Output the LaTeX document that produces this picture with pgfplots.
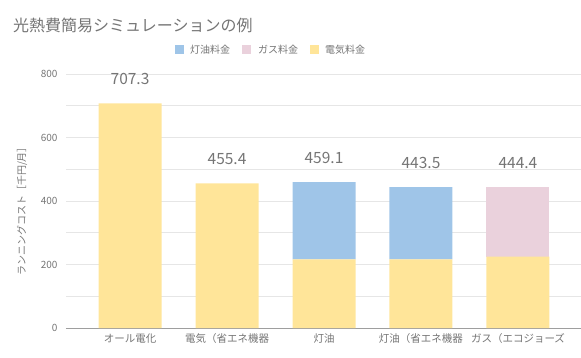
\documentclass[border=0pt]{standalone}
\usepackage{fontspec}
\setmainfont{Noto Sans CJK JP}
\usepackage{pgfplots}
\usepackage{pgfplotstable}
\pgfplotsset{compat=1.18}
\definecolor{txt}{HTML}{757575}
\definecolor{gridc}{HTML}{E6E6E6}
\definecolor{axisc}{HTML}{9E9E9E}
\definecolor{cblue}{HTML}{9FC5E8}
\definecolor{cpink}{HTML}{EAD1DC}
\definecolor{cyellow}{HTML}{FFE599}
\pgfplotstableread{
x elec kero gas total
0 707.3 0 0 707.3
1 455.4 0 0 455.4
2 216 243.1 0 459.1
3 216 227.5 0 443.5
4 225 0 219.4 444.4
}\datatable
\begin{document}
\begin{tikzpicture}
\useasboundingbox (0pt,0pt) rectangle (581pt,357pt);
\begin{axis}[
  at={(66pt,29pt)}, anchor=south west,
  scale only axis, width=516pt, height=254pt,
  xmin=-0.66, xmax=4.66, ymin=0, ymax=800,
  clip=false,
  ybar stacked, bar width=63pt,
  axis lines=left,
  x axis line style={draw=axisc, line width=1pt, -},
  y axis line style={draw=none},
  major tick length=0pt, minor tick length=0pt,
  ytick={0,200,400,600,800},
  minor ytick={100,300,500,700},
  ymajorgrids, yminorgrids,
  major grid style={draw=gridc, line width=0.8pt},
  minor grid style={draw=gridc, line width=0.8pt},
  xtick={0,1,2,3,4},
  xticklabels={オール電化,電気（省エネ機器,灯油,灯油（省エネ機器,ガス（エコジョーズ},
  xticklabel style={font=\fontsize{10.5}{12}\selectfont, text=txt, yshift=-2pt},
  yticklabel style={font=\fontsize{10}{12}\selectfont, text=txt, xshift=-5pt},
  /pgf/number format/assume math mode=true,
]
\addplot[fill=cyellow, draw=none] table[x=x,y=elec]{\datatable};
\addplot[fill=cblue, draw=none] table[x=x,y=kero]{\datatable};
\addplot[fill=cpink, draw=none] table[x=x,y=gas]{\datatable};
\end{axis}
\begin{axis}[
  at={(66pt,29pt)}, anchor=south west,
  scale only axis, width=516pt, height=254pt,
  xmin=-0.66, xmax=4.66, ymin=0, ymax=800,
  clip=false, hide axis,
  /pgf/number format/assume math mode=true,
]
\addplot[draw=none, mark=none,
  nodes near coords={\pgfmathprintnumber[fixed,precision=1,zerofill,assume math mode=true]{\pgfplotspointmeta}},
  point meta=explicit,
  nodes near coords style={font=\fontsize{15.5}{18}\selectfont, text=txt, anchor=center, yshift=24pt},
  ] table[x=x,y=total,meta=total]{\datatable};
\end{axis}
\node[anchor=west, text=txt, font=\fontsize{16}{19}\selectfont, inner sep=0pt] at (13pt,332pt) {光熱費簡易シミュレーションの例};
\node[rotate=90, text=txt, font=\fontsize{10}{12}\selectfont, inner sep=0pt] at (22pt,148pt) {ランニングコスト［千円/月］};
\fill[cblue] (175pt,302.5pt) rectangle ++(9pt,9pt);
\node[anchor=west, text=txt, font=\fontsize{10}{12}\selectfont, inner sep=0pt] at (190pt,307pt) {灯油料金};
\fill[cpink] (242pt,302.5pt) rectangle ++(9pt,9pt);
\node[anchor=west, text=txt, font=\fontsize{10}{12}\selectfont, inner sep=0pt] at (258pt,307pt) {ガス料金};
\fill[cyellow] (310pt,302.5pt) rectangle ++(9pt,9pt);
\node[anchor=west, text=txt, font=\fontsize{10}{12}\selectfont, inner sep=0pt] at (325pt,307pt) {電気料金};
\end{tikzpicture}
\end{document}
